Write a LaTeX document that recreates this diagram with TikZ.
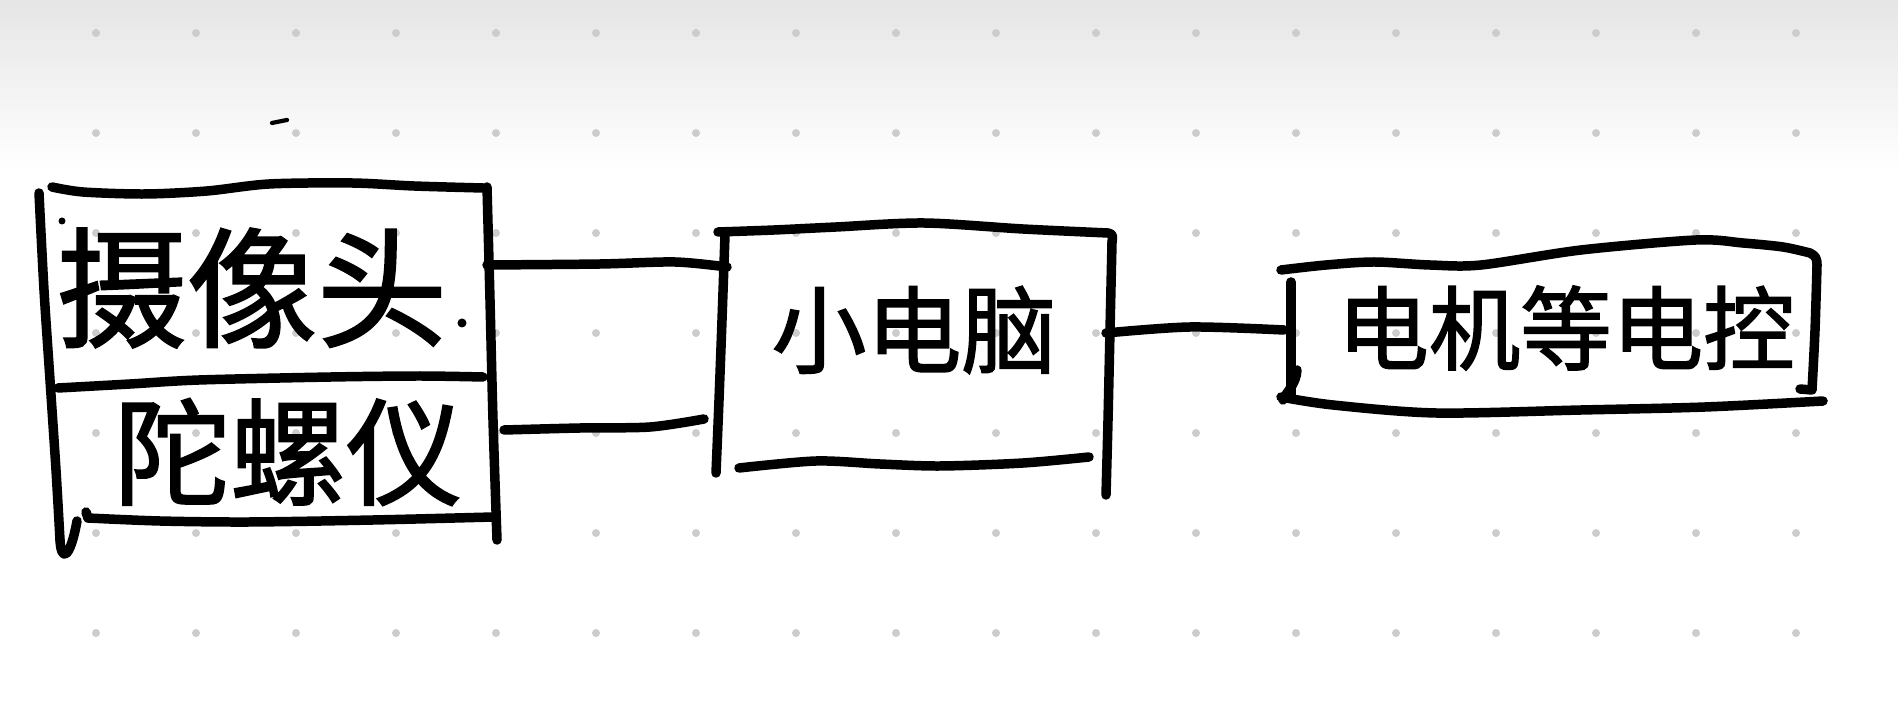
\documentclass[tikz,border=0pt]{standalone}
\usepackage{fontspec}
\newfontfamily\cjk[FakeBold=1.6]{Noto Sans CJK SC}
\begin{document}
\begin{tikzpicture}[x=0.01cm,y=-0.01cm,
  ink/.style={line width=2.7pt,line cap=round,line join=round,black},
  gdot/.style={fill=black!20,draw=none},
  lbl/.style={inner sep=0pt,black}]
\useasboundingbox (0,0) rectangle (1898,725);
\fill[white] (0,0) rectangle (1898,725);
\shade[top color=black!10,bottom color=white] (0,0) rectangle (1898,170);
% dot grid
\foreach \i in {0,...,17}{
  \foreach \j in {0,...,6}{
    \fill[gdot] ({96+100*\i},{33+100*\j}) circle (4);
  }
}
% stray marks
\draw[line width=1.2pt,line cap=round] (272,123) -- (287,120);
\fill (462,323) circle (4.5);
\fill (62,221) circle (3.5);
% ---- left box (camera / gyroscope)
\draw[ink] plot[smooth] coordinates {(52,187) (83,192) (145,194) (207,191) (269,184) (352,183) (414,186) (483,188)};
\draw[ink] plot[smooth] coordinates {(39,193) (44,290) (50,380) (56,470) (60,540)};
\draw[ink] (60,540) .. controls (61,562) and (70,560) .. (77,521);
\draw[ink] plot[smooth] coordinates {(487,187) (490,300) (493,420) (497,540)};
\draw[ink] plot[smooth] coordinates {(58,388) (130,384) (199,380) (331,377) (420,376) (483,377)};
\draw[ink] (86,512) -- (88,518);
\draw[ink] plot[smooth] coordinates {(88,518) (160,521) (249,522) (373,520) (493,517)};
\node[lbl,font=\cjk\fontsize{37pt}{37pt}\selectfont] (cam) at (252,288) {摄像头};
\node[lbl,font=\cjk\fontsize{33pt}{33pt}\selectfont] (gyro) at (288,452) {陀螺仪};
% ---- middle box (small computer)
\draw[ink] plot[smooth] coordinates {(718,232) (774,230) (836,227) (924,223) (1023,229) (1108,233)} .. controls (1113,234) and (1113,236) .. (1112,242);
\draw[ink] plot[smooth] coordinates {(725,235) (722,320) (719,400) (716,473)};
\draw[ink] plot[smooth] coordinates {(1112,242) (1110,330) (1108,420) (1106,495)};
\draw[ink] plot[smooth] coordinates {(739,468) (816,461) (880,464) (940,466) (1023,463) (1089,457)};
\node[lbl,font=\cjk\fontsize{27pt}{27pt}\selectfont] (pc) at (914,330) {小电脑};
% ---- right box (motor / ESC)
\draw[ink] plot[smooth] coordinates {(1281,270) (1326,265) (1374,262) (1430,265) (1481,265) (1581,250) (1696,240) (1743,243) (1783,247) (1810,253)} .. controls (1816,256) and (1817,259) .. (1817,265);
\draw[ink] (1291,282) -- (1291,397);
\draw[ink] (1283,400) .. controls (1286,392) and (1296,385) .. (1297,370);
\draw[ink] plot[smooth] coordinates {(1817,265) (1815,330) (1812,390)} -- (1800,389);
\draw[ink] plot[smooth] coordinates {(1281,397) (1333,405) (1436,413) (1581,410) (1705,407) (1823,401)};
\node[lbl,font=\cjk\fontsize{26pt}{26pt}\selectfont] (esc) at (1566,328) {电机等电控};
% ---- connectors
\coordinate (camR) at (487,265);
\coordinate (pcL1) at (727,267);
\coordinate (gyroR) at (504,430);
\coordinate (pcL2) at (704,419);
\coordinate (pcR) at (1106,333);
\coordinate (escL) at (1284,330);
\draw[ink] plot[smooth] coordinates {(camR) (600,264) (675,262) (pcL1)};
\draw[ink] plot[smooth] coordinates {(gyroR) (580,428) (650,427) (pcL2)};
\draw[ink] plot[smooth] coordinates {(pcR) (1190,327) (escL)};
\end{tikzpicture}
\end{document}
